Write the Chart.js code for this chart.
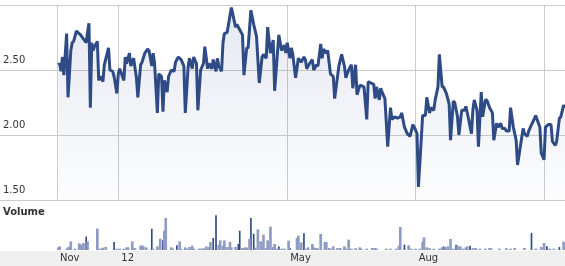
<!DOCTYPE html>
<html><head><meta charset="utf-8">
<script src="https://cdn.jsdelivr.net/npm/chart.js@4"></script>
<style>
html,body{margin:0;padding:0;background:#fff;width:565px;height:266px;overflow:hidden}
#wrap{position:relative;width:565px;height:266px}
#price{position:absolute;left:0;top:0}
#vol{position:absolute;left:0;top:201px}
</style></head><body>
<div id="wrap">
<canvas id="price" width="565" height="201"></canvas>
<canvas id="vol" width="565" height="65"></canvas>
</div>
<script>
// x values: calendar days since 1 Jan 2012
const xMin = -43.9, xMax = 320;
const tickDays = [-43.9, 0, 121, 213, 305];
const tickLabels = ['Nov', '12', 'May', 'Aug', ''];
const priceTicks = [1.5, 2.0, 2.5, 3.0];
const priceTickLabels = ['1.50', '2.00', '2.50', ''];

const priceDays = [
-43,-42,-41,-40,-39,-37,-36,-34,-33,-32,
-30,-28,-27,-25,-23,-22,-21,-20,-19,-18,
-17,-15,-14,-13,-12,-11,-10,-7,-6,-4,
-3,-1,0,1,4,5,6,8,9,11,
13,14,16,17,19,21,22,24,25,26,
28,29,31,32,33,35,36,38,40,41,
43,45,47,48,50,51,53,54,56,57,
59,61,62,64,65,67,68,70,71,72,
74,75,76,78,81,84,85,87,89,90,
92,93,95,97,99,101,103,104,106,107,
109,111,112,114,115,117,119,120,121,123,
124,125,127,129,131,133,134,135,137,139,
140,142,143,145,146,147,149,150,152,154,
155,158,160,162,163,165,167,168,170,171,
173,174,176,178,179,181,183,184,185,187,
188,189,191,193,195,196,198,200,202,203,
205,207,209,211,212,214,215,217,218,220,
221,223,224,226,227,229,230,232,233,235,
237,238,240,241,243,244,246,248,249,251,
253,254,255,257,258,260,261,263,264,266,
268,269,271,272,274,275,277,278,280,281,
283,285,286,288,290,291,293,294,296,297,
299,300,302,303,305,306,308,310,311,313,
314,316,317,319,320];
const prices = [
2.54,2.55,2.49,2.60,2.46,2.78,2.29,2.65,2.71,2.72,
2.80,2.78,2.77,2.74,2.71,2.79,2.86,2.21,2.71,2.65,
2.68,2.72,2.42,2.45,2.44,2.41,2.54,2.67,2.50,2.49,
2.45,2.32,2.47,2.51,2.42,2.60,2.55,2.63,2.53,2.59,
2.44,2.29,2.54,2.56,2.63,2.66,2.65,2.53,2.63,2.55,
2.17,2.47,2.45,2.18,2.42,2.33,2.45,2.50,2.49,2.56,
2.60,2.58,2.53,2.17,2.52,2.59,2.51,2.60,2.55,2.19,
2.50,2.55,2.68,2.51,2.55,2.51,2.58,2.49,2.59,2.53,
2.49,2.71,2.78,2.79,2.98,2.83,2.85,2.81,2.77,2.46,
2.67,2.67,2.96,2.85,2.76,2.40,2.60,2.62,2.59,2.83,
2.63,2.73,2.34,2.63,2.77,2.65,2.69,2.63,2.71,2.59,
2.67,2.62,2.44,2.59,2.56,2.60,2.58,2.51,2.55,2.58,
2.50,2.54,2.53,2.70,2.59,2.66,2.63,2.65,2.47,2.45,
2.28,2.53,2.62,2.53,2.44,2.50,2.54,2.36,2.54,2.31,
2.38,2.38,2.37,2.12,2.41,2.40,2.39,2.28,2.37,2.27,
2.36,2.33,2.28,1.91,2.21,2.12,2.14,2.13,2.14,2.17,
2.06,2.01,1.99,2.08,2.06,2.01,1.60,1.96,2.15,2.15,
2.29,2.17,2.21,2.19,2.27,2.37,2.62,2.37,2.37,2.32,
2.24,1.96,2.26,2.25,2.14,2.00,2.19,2.19,2.22,2.12,
2.01,2.19,2.27,2.19,1.91,2.33,2.14,2.27,2.27,2.21,
2.17,1.96,2.09,2.06,2.09,2.05,2.05,2.03,2.03,2.21,
2.06,1.96,1.77,1.91,2.05,2.01,1.99,2.03,2.08,2.10,
2.15,2.12,2.06,1.86,1.81,2.06,2.08,2.08,1.95,1.92,
1.95,2.13,2.14,2.23,2.21];

// volume (thousands of shares)
const volDays = [
-43,-42,-37,-36,-35,-34,-31,-28,-27,-26,
-25,-23,-22,-15,-14,-12,-11,-9,-3,-1,
1,4,6,7,10,11,12,16,17,18,
20,24,25,28,30,32,33,34,38,39,
42,44,45,48,49,51,53,54,58,59,
61,63,64,65,66,68,70,72,73,75,
76,78,80,81,84,86,87,89,91,92,
94,95,97,98,100,102,104,106,107,109,
111,112,114,115,117,119,122,123,128,129,
131,133,134,136,139,140,142,143,145,148,
149,151,152,154,157,159,162,163,165,167,
170,173,174,178,182,184,185,192,195,199,
201,202,205,208,210,213,216,218,219,221,
223,226,230,232,233,234,235,236,238,240,
242,243,245,247,249,250,252,254,256,259,
263,266,267,273,278,281,284,291,296,299,
303,305,307,309,312,316,319];
const volumes = [
23,33,10,23,30,83,10,63,50,50,
67,130,83,210,10,10,20,27,77,10,
10,10,23,23,83,10,15,40,43,33,
23,210,10,33,110,93,190,317,23,10,
43,83,10,23,10,27,40,10,10,10,
15,33,10,27,77,117,343,50,93,40,
93,27,77,23,27,57,190,17,23,20,
107,317,160,20,203,83,150,15,93,230,
27,57,10,33,10,10,90,15,117,140,
73,163,10,23,57,23,17,10,157,77,
77,17,10,33,15,17,33,10,100,10,
15,23,10,10,17,17,10,10,10,10,
40,227,50,43,10,10,10,80,123,23,
15,10,10,23,33,27,10,33,107,10,
50,40,33,10,23,33,40,15,17,10,
10,17,15,10,15,10,17,17,167,10,
27,67,33,10,10,27,80];
const volDown = [
0,0,0,0,0,0,0,0,0,0,
0,1,0,0,0,0,0,0,1,0,
0,0,0,0,0,0,0,0,0,0,
0,1,0,0,0,1,0,0,0,0,
1,0,0,0,0,0,0,0,0,0,
0,0,0,0,0,1,1,0,0,0,
0,0,0,0,0,1,1,0,0,0,
0,1,1,0,0,0,0,0,0,0,
0,0,0,1,0,0,0,1,0,0,
0,1,0,0,0,0,0,0,0,0,
0,0,0,0,0,0,0,0,0,0,
0,0,0,0,0,0,0,0,0,0,
0,0,1,0,0,0,0,0,0,0,
0,0,0,0,1,0,0,0,0,0,
1,0,0,0,0,0,1,0,0,0,
0,0,0,0,0,0,0,0,1,0,
0,0,1,0,0,1,0];

Chart.defaults.font.family = 'DejaVu Sans';
Chart.defaults.font.size = 10;
Chart.defaults.color = '#333';

const setTicks = arr => s => { s.ticks = arr.map(v => ({value: v})); };

new Chart(document.getElementById('price'), {
  type: 'line',
  data: { datasets: [{
    data: priceDays.map((d, i) => ({x: d, y: prices[i]})),
    borderColor: '#2f4b86', borderWidth: 3, pointRadius: 0, tension: 0,
    borderJoinStyle: 'bevel',
    fill: 'start',
    backgroundColor: ctx => {
      const a = ctx.chart.chartArea;
      if (!a) return 'rgba(50,70,140,0.08)';
      const g = ctx.chart.ctx.createLinearGradient(0, a.top, 0, a.bottom);
      g.addColorStop(0, 'rgba(50,70,140,0.12)');
      g.addColorStop(1, 'rgba(50,70,140,0.01)');
      return g;
    }
  }]},
  options: {
    responsive: false, animation: false,
    layout: { padding: { top: 5, left: 3, right: 0, bottom: 1 } },
    plugins: { legend: { display: false }, tooltip: { enabled: false } },
    scales: {
      x: { type: 'linear', min: xMin, max: xMax,
        afterBuildTicks: setTicks(tickDays),
        ticks: { display: false },
        grid: { color: '#cccccc', drawTicks: false },
        border: { display: false } },
      y: { min: 1.5, max: 3.0,
        afterBuildTicks: setTicks(priceTicks),
        ticks: { crossAlign: 'far', labelOffset: -10, padding: 0, color: '#333',
          callback: v => priceTickLabels[priceTicks.indexOf(v)] },
        grid: { color: '#cccccc', drawTicks: true, tickLength: 57 },
        border: { display: false },
        afterFit: s => { s.width = 54; s.paddingTop = 0; s.paddingBottom = 0; } }
    }
  }
});

const stripPlugin = {
  id: 'strip',
  beforeDraw(chart) {
    const c = chart.ctx, a = chart.chartArea;
    c.save(); c.fillStyle = '#efefef';
    c.fillRect(0, a.bottom + 1, chart.width, chart.height - a.bottom - 1);
    c.restore();
  }
};

const volPts = volDays.map((d, i) => ({x: d, y: volumes[i], down: volDown[i]}));
new Chart(document.getElementById('vol'), {
  type: 'bar',
  data: { datasets: [
    { data: volPts.filter(p => !p.down), backgroundColor: '#8e9bc3', barThickness: 2, grouped: false },
    { data: volPts.filter(p => p.down), backgroundColor: '#2f4b86', barThickness: 1, grouped: false }
  ]},
  options: {
    responsive: false, animation: false,
    layout: { padding: { top: 0, left: 3, right: 0, bottom: 2 } },
    plugins: { legend: { display: false }, tooltip: { enabled: false },
      title: { display: true, text: 'Volume', align: 'start', color: '#333',
        font: { weight: 'bold', size: 10, family: 'DejaVu Sans' },
        padding: { top: 5, bottom: -3 } } },
    scales: {
      x: { type: 'linear', min: xMin, max: xMax, offset: false,
        afterBuildTicks: setTicks(tickDays),
        ticks: { autoSkip: false, maxRotation: 0, align: 'start', labelOffset: 3, padding: 2, color: '#333',
          callback: (v, i) => tickLabels[i] },
        grid: { display: false, drawTicks: false }, border: { display: false },
        afterFit: s => { s.height = 14; s.paddingLeft = 0; s.paddingRight = 0; } },
      y: { min: 0, max: 350, ticks: { display: false }, grid: { display: false, drawTicks: false },
        border: { display: false }, afterFit: s => { s.width = 54; } }
    }
  },
  plugins: [stripPlugin]
});
</script>
</body></html>
